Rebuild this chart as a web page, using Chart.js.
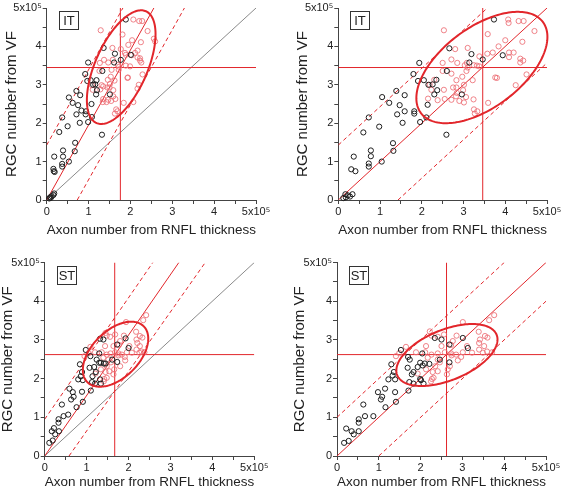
<!DOCTYPE html>
<html>
<head>
<meta charset="utf-8">
<script src="https://cdn.jsdelivr.net/npm/chart.js@4.4.0/dist/chart.umd.min.js"></script>
<style>
  body { margin: 0; background: #fff; }
  #fig { position: relative; width: 572px; height: 492px; overflow: hidden; }
  canvas { position: absolute; }
</style>
</head>
<body>
<div id="fig">
  <canvas id="c1"></canvas>
  <canvas id="c2"></canvas>
  <canvas id="c3"></canvas>
  <canvas id="c4"></canvas>
</div>
<script>
// values are in units of 10^5 cells / axons
const tickLabels = ['0', '1', '2', '3', '4', '5x10\u2075'];

// IT, axon number from RNFL (left panel)
const itBlackA = [[1.89,4.70],[1.36,3.96],[1.63,3.81],[1.77,3.65],[2.01,3.78],[1.61,3.58],[0.99,3.58],[1.33,3.36],[0.92,3.28],[0.97,3.10],[1.05,3.12],[1.19,3.12],[1.11,3.00],[1.16,3.01],[1.20,2.86],[1.18,2.75],[1.51,2.75],[0.71,2.84],[0.53,2.67],[0.80,2.73],[0.62,2.53],[0.75,2.47],[1.07,2.50],[0.83,2.33],[0.71,2.23],[0.94,2.31],[0.93,2.23],[0.99,2.03],[1.08,2.16],[0.79,2.01],[0.37,2.15],[0.50,1.92],[0.30,1.77],[1.32,1.70],[0.68,1.49],[0.67,1.27],[0.39,1.29],[0.39,1.13],[0.18,1.13],[0.53,1.00],[0.37,0.94],[0.37,0.87],[0.16,0.81],[0.17,0.75],[0.19,0.73],[0.08,0.07],[0.12,0.10],[0.16,0.13],[0.18,0.17],[0.06,0.04],[0.10,0.06]];
const itPinkA = [[1.29,4.42],[2.07,4.70],[2.21,4.66],[2.28,4.66],[2.41,4.40],[1.81,4.31],[2.56,4.20],[2.59,4.13],[2.04,4.16],[2.25,4.11],[1.95,4.04],[1.57,3.96],[1.77,3.93],[2.17,3.89],[2.11,3.83],[1.87,3.83],[1.89,3.78],[2.17,3.71],[2.23,3.69],[1.37,3.65],[1.47,3.58],[1.27,3.57],[1.58,3.65],[2.23,3.63],[2.26,3.58],[1.70,3.52],[1.89,3.50],[1.99,3.48],[1.73,3.47],[1.72,3.39],[1.55,3.39],[1.26,3.36],[2.29,3.27],[1.94,3.19],[1.53,3.21],[1.62,3.11],[1.46,3.13],[1.08,2.99],[1.51,3.02],[1.35,2.96],[1.10,2.87],[1.28,2.88],[1.45,2.93],[1.50,2.93],[1.59,2.86],[2.20,3.00],[2.17,2.90],[1.59,2.70],[1.35,2.63],[1.47,2.61],[1.64,2.63],[1.54,2.58],[1.34,2.55],[1.43,2.55],[1.66,2.36],[1.69,2.31],[1.63,2.25],[2.07,2.55],[1.84,2.53],[1.93,3.18],[2.03,3.77],[1.31,2.99]];
const itIdentityA = [[0,0],[5,5]];
const itFitA = [[0,0],[2.56,5]];
const itUpperA = [[0,1.43],[1.82,5]];
const itLowerA = [[0.73,0],[3.29,5]];
const itMeanA = [1.76, 3.45];
const itEllipseA = [1.78, 3.46, 0.82, 1.48, 0.58]; // cx, cy, half width, half height, r

// IT, corrected axon number (right panel)
const itBlackB = [[3.73,4.70],[2.66,3.95],[3.19,3.80],[3.46,3.66],[3.94,3.77],[3.14,3.58],[1.94,3.57],[2.60,3.36],[1.80,3.28],[1.91,3.10],[2.05,3.12],[2.35,3.13],[2.16,3.00],[2.26,3.01],[2.37,2.86],[2.30,2.75],[2.96,2.75],[1.39,2.84],[1.05,2.68],[1.59,2.73],[1.22,2.53],[1.47,2.47],[2.14,2.48],[1.59,2.31],[1.41,2.23],[1.82,2.31],[1.82,2.25],[1.96,2.03],[2.11,2.15],[1.54,2.01],[0.73,2.15],[0.98,1.91],[0.60,1.76],[2.59,1.70],[1.31,1.48],[1.32,1.28],[0.78,1.29],[0.78,1.14],[0.37,1.13],[1.04,1.00],[0.73,0.95],[0.73,0.87],[0.31,0.80],[0.41,0.75],[0.17,0.15],[0.23,0.12],[0.28,0.09],[0.34,0.15],[0.12,0.05],[0.18,0.07]];
const itPinkB = [[2.53,4.42],[4.07,4.70],[4.32,4.66],[4.44,4.66],[4.08,4.61],[4.70,4.40],[3.58,4.32],[4.00,4.16],[4.41,4.12],[3.84,4.00],[3.10,3.96],[2.80,3.93],[3.57,3.81],[3.70,3.84],[4.09,3.84],[4.20,3.84],[4.09,3.72],[4.36,3.68],[4.43,3.63],[4.36,3.58],[2.71,3.66],[2.85,3.57],[2.50,3.57],[3.08,3.57],[3.03,3.51],[3.32,3.50],[3.38,3.48],[3.10,3.45],[3.07,3.36],[3.25,3.51],[2.71,3.29],[2.50,3.36],[4.51,3.27],[3.76,3.19],[2.97,3.21],[3.22,3.12],[2.83,3.12],[2.19,3.00],[3.01,3.00],[2.75,2.93],[2.23,2.87],[2.53,2.87],[2.83,2.93],[2.99,2.86],[4.25,2.99],[2.84,2.79],[3.06,2.68],[2.82,2.70],[2.55,2.63],[2.38,2.60],[2.71,2.61],[2.90,2.58],[3.01,2.54],[3.24,2.62],[3.25,2.36],[3.33,2.31],[3.27,2.25],[3.59,2.53],[3.80,3.18],[3.38,3.74],[2.30,3.13],[2.15,2.64]];
const itFitB = [[0,0],[5,5]];
const itUpperB = [[0,1.43],[3.57,5]];
const itLowerB = [[1.43,0],[5,3.57]];
const itMeanB = [3.46, 3.45];
const itEllipseB = [3.44, 3.45, 1.57, 1.45, 0.55];

// ST, axon number from RNFL (left panel)
const stBlackA = [[1.32,3.03],[1.40,3.01],[1.93,3.04],[1.73,2.88],[2.00,2.79],[0.98,2.74],[1.30,2.65],[1.09,2.58],[1.24,2.49],[1.61,2.49],[1.30,2.41],[1.34,2.41],[1.41,2.39],[1.45,2.39],[0.84,2.37],[1.07,2.28],[1.18,2.30],[1.22,2.17],[1.73,2.43],[1.14,2.06],[0.89,2.17],[0.86,2.06],[0.80,1.98],[0.91,1.96],[1.13,1.91],[1.32,1.98],[1.34,1.87],[1.20,1.87],[1.10,1.69],[0.67,1.65],[0.89,1.66],[0.59,1.74],[0.69,1.53],[0.63,1.46],[0.91,1.40],[0.76,1.26],[0.41,1.33],[0.45,1.03],[0.56,1.07],[0.33,0.95],[0.33,0.86],[0.22,0.72],[0.17,0.64],[0.34,0.64],[0.25,0.56],[0.19,0.40],[0.11,0.34]];
const stPinkA = [[2.42,3.64],[2.35,3.51],[1.94,3.46],[2.18,3.21],[1.45,3.18],[1.68,3.14],[1.48,3.11],[1.89,3.11],[1.56,3.08],[2.27,3.10],[2.33,3.06],[2.19,3.01],[1.80,2.97],[2.21,2.92],[1.09,2.82],[1.64,2.84],[1.77,2.87],[1.44,2.84],[2.27,2.84],[2.02,2.84],[2.19,2.75],[2.31,2.70],[2.38,2.68],[2.26,2.67],[2.08,2.67],[1.96,2.68],[1.84,2.62],[1.91,2.56],[1.57,2.65],[1.48,2.62],[1.36,2.68],[1.20,2.68],[1.76,2.65],[1.68,2.68],[1.76,2.60],[1.40,2.54],[1.52,2.49],[1.58,2.42],[1.48,2.32],[1.34,2.24],[1.45,2.17],[1.54,2.19],[1.48,2.02],[1.42,1.99],[1.41,1.93],[1.21,2.13],[1.66,2.24],[1.64,2.11],[1.80,2.32],[1.92,2.47],[1.05,2.66],[0.95,2.58]];
const stIdentityA = [[0,0],[5,5]];
const stFitA = [[0,0],[3.2,5]];
const stUpperA = [[0,0.95],[2.58,5]];
const stLowerA = [[0.58,0],[3.83,5]];
const stMeanA = [1.67, 2.62];
const stEllipseA = [1.69, 2.63, 0.78, 0.84, 0.48];

// ST, corrected axon number (right panel)
const stBlackB = [[2.34,3.05],[2.50,3.01],[3.01,3.05],[2.69,2.88],[3.13,2.79],[1.53,2.74],[2.04,2.65],[1.70,2.56],[2.46,2.49],[2.69,2.42],[1.74,2.49],[1.99,2.41],[2.10,2.39],[2.21,2.38],[1.30,2.37],[1.69,2.28],[1.93,2.30],[2.05,2.34],[1.83,2.17],[1.36,2.17],[1.33,2.08],[1.79,2.11],[1.23,1.98],[1.39,1.98],[1.73,1.91],[1.99,1.99],[2.01,1.96],[2.07,1.87],[1.83,1.87],[1.71,1.69],[0.98,1.65],[1.15,1.74],[1.39,1.65],[1.08,1.53],[1.05,1.46],[1.41,1.40],[1.16,1.26],[0.63,1.33],[0.87,1.03],[0.67,1.03],[0.52,0.95],[0.52,0.86],[0.35,0.64],[0.22,0.71],[0.52,0.64],[0.40,0.56],[0.28,0.39],[0.17,0.34]];
const stPinkB = [[3.76,3.64],[3.64,3.51],[3.01,3.46],[3.39,3.21],[2.22,3.22],[2.56,3.14],[2.26,3.11],[2.86,3.11],[2.41,3.08],[3.54,3.10],[3.60,3.06],[3.42,3.01],[2.77,2.97],[3.40,2.92],[1.65,2.82],[2.50,2.84],[2.73,2.87],[2.13,2.84],[3.52,2.84],[3.11,2.84],[3.40,2.75],[3.59,2.70],[3.71,2.68],[3.49,2.67],[3.23,2.67],[3.01,2.68],[2.85,2.62],[2.97,2.56],[2.41,2.65],[2.26,2.62],[2.11,2.68],[1.89,2.68],[2.73,2.65],[2.58,2.68],[2.74,2.60],[2.17,2.54],[2.41,2.49],[2.46,2.42],[2.35,2.32],[2.13,2.24],[2.29,2.17],[2.41,2.19],[2.31,2.02],[2.27,1.99],[2.25,1.93],[1.93,2.13],[2.65,2.24],[2.63,2.11],[2.70,2.32],[2.89,2.47],[1.49,2.66],[1.41,2.58]];
const stFitB = [[0,0],[5,5]];
const stUpperB = [[0,1.0],[4.0,5]];
const stLowerB = [[1.0,0],[5,4.0]];
const stMeanB = [2.62, 2.62];
const stEllipseB = [2.63, 2.61, 1.21, 0.80, 0.5];

const FONT = "'Liberation Sans', Arial, sans-serif";
const RED = '#e2262b';
const INK = '#222';

function pts(arr) {
    return arr.map(p => ({ x: p[0], y: p[1] }));
}

function lineSet(arr, color, dash, order) {
    return {
        type: 'line', data: pts(arr), borderColor: color, borderWidth: 1,
        borderDash: dash || [], pointRadius: 0, fill: false, order: order
    };
}

// ellipse drawn through the chart's own scales
const ellipsePlugin = {
    id: 'ellipse',
    afterDatasetsDraw(chart, args, opts) {
        const e = opts.params;
        if (!e) return;
        const xs = chart.scales.x, ys = chart.scales.y;
        const phi = Math.acos(e[4]);
        const ctx = chart.ctx;
        ctx.save();
        ctx.beginPath();
        for (let i = 0; i <= 180; i++) {
            const t = i / 180 * Math.PI * 2;
            const px = xs.getPixelForValue(e[0] + e[2] * Math.cos(t));
            const py = ys.getPixelForValue(e[1] + e[3] * Math.cos(t - phi));
            if (i === 0) ctx.moveTo(px, py); else ctx.lineTo(px, py);
        }
        ctx.closePath();
        ctx.strokeStyle = RED;
        ctx.lineWidth = 2;
        ctx.stroke();
        ctx.restore();
    }
};

// boxed region label (IT / ST)
const tagPlugin = {
    id: 'tag',
    afterDraw(chart, args, opts) {
        const a = chart.chartArea;
        const ctx = chart.ctx;
        const x = a.left + opts.dx, y = a.top + opts.dy;
        ctx.save();
        ctx.strokeStyle = '#333';
        ctx.lineWidth = 1;
        ctx.strokeRect(Math.round(x) + 0.5, Math.round(y) + 0.5, 19, 18);
        ctx.fillStyle = INK;
        ctx.font = '13px ' + FONT;
        ctx.textAlign = 'center';
        ctx.textBaseline = 'middle';
        ctx.fillText(opts.text, Math.round(x) + 10, Math.round(y) + 10);
        ctx.restore();
    }
};

function axis(title, size, fitFn, titlePad) {
    return {
        type: 'linear', min: 0, max: 5,
        ticks: {
            stepSize: 0.5, autoSkip: false, maxRotation: 0, padding: 1,
            color: INK, font: { family: FONT, size: 11 },
            callback: v => Number.isInteger(v) ? tickLabels[v] : ''
        },
        grid: { drawOnChartArea: false, drawTicks: true, tickLength: 4, color: '#444' },
        border: { display: true, color: '#444', width: 1 },
        title: { display: true, text: title, color: INK, font: { family: FONT, size: size }, padding: titlePad },
        afterFit: fitFn
    };
}

function makePanel(id, box, tag, s) {
    // box: chart area + title centres, in page pixels
    const cl = Math.floor(box.yTitleX - 9);
    const yPad = box.yTitleX - 9 - cl;
    const ct = Math.floor(box.top - 8);
    const w = Math.round(box.right + 32 - cl);
    const h = Math.round(box.xTitleY + 8.1 + 3 - ct);
    const xPad = ct + h - box.xTitleY - 8.1;
    const yWidth = box.left - cl;
    const xHeight = ct + h - box.bottom;

    const cv = document.getElementById(id);
    cv.width = w; cv.height = h;
    cv.style.left = cl + 'px'; cv.style.top = ct + 'px';
    cv.style.width = w + 'px'; cv.style.height = h + 'px';

    const datasets = [
        { type: 'scatter', data: pts(s.black), borderColor: '#1e1e1e', backgroundColor: 'transparent',
          pointRadius: 2.6, borderWidth: 1, order: 0, clip: false },
        { type: 'scatter', data: pts(s.pink), borderColor: 'rgba(236,110,118,0.85)', backgroundColor: 'transparent',
          pointRadius: 2.6, borderWidth: 1, order: 1, clip: false },
        lineSet(s.fit, RED, null, 2),
        lineSet(s.upper, RED, [4, 3], 3),
        lineSet(s.lower, RED, [4, 3], 3),
        lineSet([[s.mean[0], 0], [s.mean[0], 5]], RED, null, 4),
        lineSet([[0, s.mean[1]], [5, s.mean[1]]], RED, null, 4)
    ];
    if (s.identity) datasets.push(lineSet(s.identity, '#8a8a8a', null, 5));

    new Chart(cv, {
        type: 'scatter',
        data: { datasets: datasets },
        options: {
            responsive: false,
            animation: false,
            layout: { padding: { left: 0, top: box.top - ct, right: cl + w - box.right, bottom: 0 } },
            scales: {
                x: axis('Axon number from RNFL thickness', 13.5, sc => { sc.height = xHeight; }, { top: 0, bottom: xPad }),
                y: axis('RGC number from VF', 15, sc => { sc.width = yWidth; }, { top: yPad, bottom: 0 })
            },
            plugins: {
                legend: { display: false },
                tooltip: { enabled: false },
                ellipse: { params: s.ellipse },
                tag: { text: tag, dx: 12, dy: 3 }
            }
        },
        plugins: [ellipsePlugin, tagPlugin]
    });
}

makePanel('c1', { left: 46.7, right: 256, top: 8, bottom: 200, yTitleX: 11.5, xTitleY: 230 }, 'IT',
    { black: itBlackA, pink: itPinkA, fit: itFitA, upper: itUpperA, lower: itLowerA, mean: itMeanA, ellipse: itEllipseA, identity: itIdentityA });
makePanel('c2', { left: 338.3, right: 547, top: 8, bottom: 200, yTitleX: 302.5, xTitleY: 230 }, 'IT',
    { black: itBlackB, pink: itPinkB, fit: itFitB, upper: itUpperB, lower: itLowerB, mean: itMeanB, ellipse: itEllipseB });
makePanel('c3', { left: 44.7, right: 254.3, top: 262.5, bottom: 456, yTitleX: 7.5, xTitleY: 482 }, 'ST',
    { black: stBlackA, pink: stPinkA, fit: stFitA, upper: stUpperA, lower: stLowerA, mean: stMeanA, ellipse: stEllipseA, identity: stIdentityA });
makePanel('c4', { left: 337, right: 546, top: 262.5, bottom: 456, yTitleX: 299.5, xTitleY: 482 }, 'ST',
    { black: stBlackB, pink: stPinkB, fit: stFitB, upper: stUpperB, lower: stLowerB, mean: stMeanB, ellipse: stEllipseB });
</script>
</body>
</html>
